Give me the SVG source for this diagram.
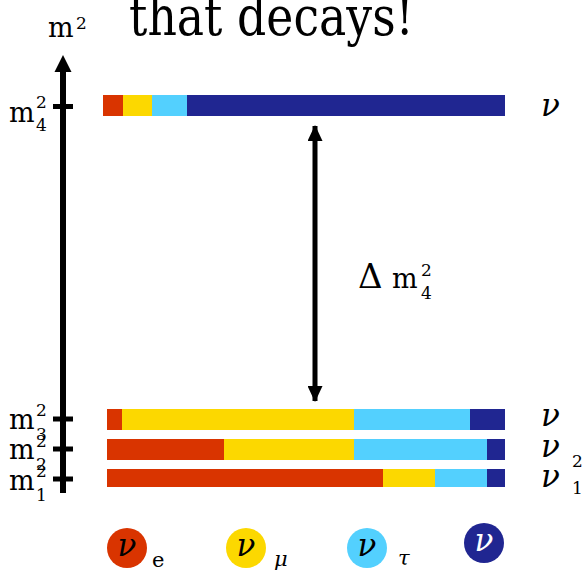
<svg xmlns="http://www.w3.org/2000/svg" width="584" height="570" viewBox="0 0 584 570" font-family="'DejaVu Serif', serif">
<defs>
<style>
text{font-family:'DejaVu Serif',serif;fill:#000}
.m{font-size:27px}
.s{font-size:17px}
.nu{font-size:31px;font-style:italic}
.r{fill:#D93400}.y{fill:#FCD800}.c{fill:#53D0FE}.n{fill:#202691}
</style>
<marker id="ah" viewBox="0 0 16 15" refX="15" refY="7.5" markerWidth="16" markerHeight="15" markerUnits="userSpaceOnUse" orient="auto-start-reverse">
<path d="M0,0 L16,7.5 L0,15 Z" fill="#000"/>
</marker>
</defs>
<rect width="584" height="570" fill="#fff"/>
<text x="129" y="35" font-size="54" font-weight="300" textLength="285" lengthAdjust="spacingAndGlyphs">that decays!</text>

<g id="axis">
<line x1="63" y1="493" x2="63" y2="70" stroke="#000" stroke-width="6"/>
<path d="M54.5,72 L63,55 L71.5,72 Z" fill="#000"/>
<line x1="53" y1="106.5" x2="73" y2="106.5" stroke="#000" stroke-width="5"/>
<line x1="53" y1="419" x2="73" y2="419" stroke="#000" stroke-width="5"/>
<line x1="53" y1="449" x2="73" y2="449" stroke="#000" stroke-width="5"/>
<line x1="53" y1="479" x2="73" y2="479" stroke="#000" stroke-width="5"/>
<text class="m" x="48" y="37">m</text><text class="s" x="76" y="29">2</text>
<text class="m" x="9" y="122">m</text><text class="s" x="36" y="108">2</text><text class="s" x="36" y="131">4</text>
<text class="m" x="9" y="429">m</text><text class="s" x="36" y="416">2</text><text class="s" x="36" y="440">3</text>
<text class="m" x="9" y="459">m</text><text class="s" x="36" y="447">2</text><text class="s" x="36" y="470">2</text>
<text class="m" x="9" y="490">m</text><text class="s" x="36" y="477">2</text><text class="s" x="36" y="501">1</text>
</g>

<g id="nu4">
<rect class="r" x="103" y="95" width="21" height="21"/>
<rect class="y" x="123" y="95" width="30" height="21"/>
<rect class="c" x="152" y="95" width="36" height="21"/>
<rect class="n" x="187" y="95" width="318" height="21"/>
<text class="nu" x="541" y="116">ν</text>
</g>

<g id="nu3">
<rect class="r" x="107" y="409" width="16" height="21"/>
<rect class="y" x="122" y="409" width="233" height="21"/>
<rect class="c" x="354" y="409" width="117" height="21"/>
<rect class="n" x="470" y="409" width="35" height="21"/>
<text class="nu" x="541" y="426">ν</text>
</g>

<g id="nu2">
<rect class="r" x="107" y="439" width="118" height="21"/>
<rect class="y" x="224" y="439" width="131" height="21"/>
<rect class="c" x="354" y="439" width="134" height="21"/>
<rect class="n" x="487" y="439" width="18" height="21"/>
<text class="nu" x="541" y="457">ν</text><text class="s" x="572" y="467">2</text>
</g>

<g id="nu1">
<rect class="r" x="107" y="469" width="277" height="18"/>
<rect class="y" x="383" y="469" width="53" height="18"/>
<rect class="c" x="435" y="469" width="53" height="18"/>
<rect class="n" x="487" y="469" width="18" height="18"/>
<text class="nu" x="541" y="487">ν</text><text class="s" x="572" y="494">1</text>
</g>

<g id="connectors">
<line x1="315" y1="126" x2="315" y2="401" stroke="#000" stroke-width="5" marker-start="url(#ah)" marker-end="url(#ah)"/>
</g>

<g id="dm-label">
<text x="358" y="288" font-size="34">Δ</text>
<text class="m" x="392" y="288">m</text><text class="s" x="421" y="276">2</text><text class="s" x="421" y="299">4</text>
</g>

<g id="legend">
<g id="leg-e"><circle class="r" cx="127" cy="548" r="20"/><text class="nu" x="127" y="556" text-anchor="middle">ν</text><text x="152" y="567" font-size="21">e</text></g>
<g id="leg-mu"><circle class="y" cx="246" cy="548" r="20"/><text class="nu" x="246" y="556" text-anchor="middle">ν</text><text x="274" y="566" font-size="21" font-style="italic">μ</text></g>
<g id="leg-tau"><circle class="c" cx="367" cy="548" r="20"/><text class="nu" x="367" y="556" text-anchor="middle">ν</text><text x="398" y="565" font-size="21" font-style="italic">τ</text></g>
<g id="leg-s"><circle class="n" cx="484" cy="543" r="20"/><text class="nu" x="484" y="551" text-anchor="middle" style="fill:#fff">ν</text></g>
</g>
</svg>
